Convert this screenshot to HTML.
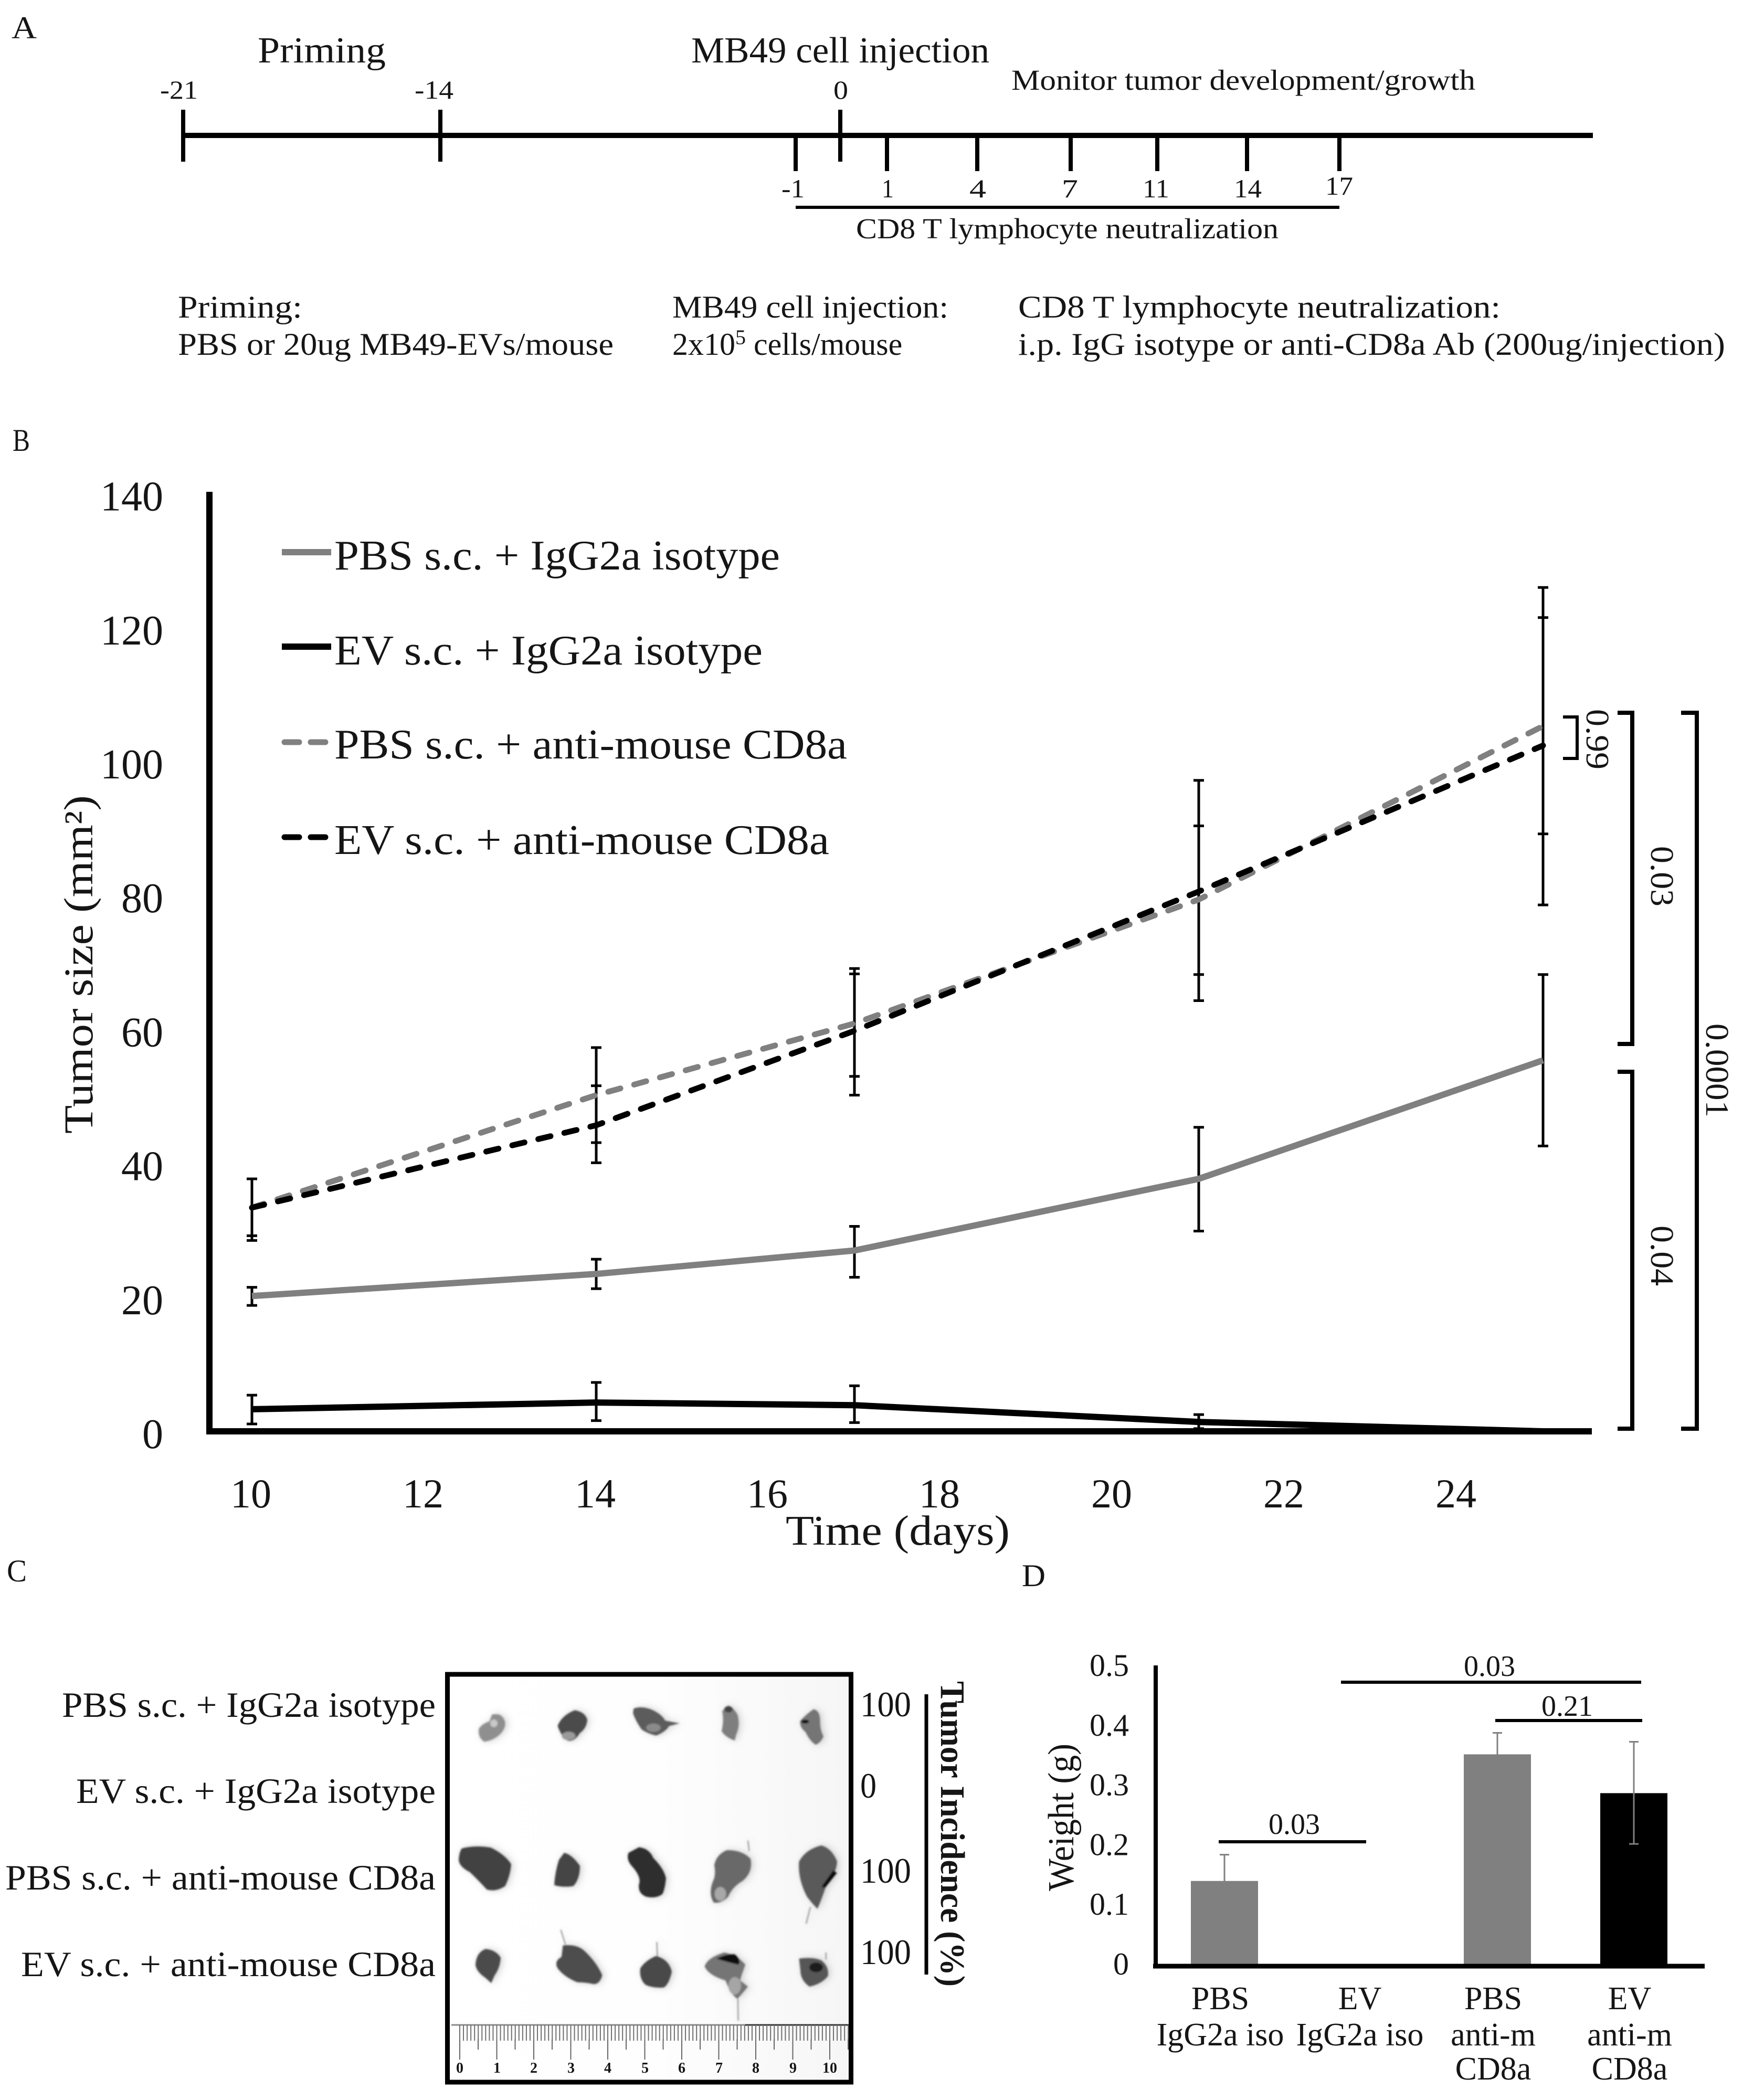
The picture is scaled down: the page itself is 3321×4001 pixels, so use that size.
<!DOCTYPE html>
<html lang="en">
<head>
<meta charset="utf-8">
<title>Tumor growth figure</title>
<style>
html,body{margin:0;padding:0;background:#fff;}
svg{display:block;}
text{font-family:"Liberation Serif",serif;fill:#151515;}
</style>
</head>
<body>
<svg id="fig" xmlns="http://www.w3.org/2000/svg" width="3321" height="4001" viewBox="0 0 3321 4001">
<defs>
<filter id="soft" filterUnits="userSpaceOnUse" x="850" y="3190" width="780" height="780">
<feGaussianBlur in="SourceGraphic" stdDeviation="1.6" result="s"/>
<feDropShadow in="s" dx="4" dy="0" stdDeviation="7" flood-color="#888" flood-opacity="0.4"/>
</filter>
<linearGradient id="photoBg" x1="0" y1="0" x2="1" y2="0">
<stop offset="0" stop-color="#ffffff"/>
<stop offset="0.5" stop-color="#fefefe"/>
<stop offset="1" stop-color="#f6f6f6"/>
</linearGradient>
</defs>
<rect x="0" y="0" width="3321" height="4001" fill="#fff"/>

<!-- Panel A -->
<g id="panel-a">
<text x="22" y="73" font-size="60" textLength="48" lengthAdjust="spacingAndGlyphs">A</text>
<text x="491" y="119" font-size="70" textLength="244" lengthAdjust="spacingAndGlyphs">Priming</text>
<text x="1317" y="119" font-size="70" textLength="568" lengthAdjust="spacingAndGlyphs">MB49 cell injection</text>
<text x="1927" y="171" font-size="55" textLength="884" lengthAdjust="spacingAndGlyphs">Monitor tumor development/growth</text>
<g stroke="#000" fill="none">
<line x1="349" y1="258" x2="3035" y2="258" stroke-width="10"/>
<line x1="349" y1="209" x2="349" y2="308" stroke-width="8"/>
<line x1="839" y1="209" x2="839" y2="308" stroke-width="8"/>
<line x1="1601" y1="209" x2="1601" y2="308" stroke-width="8"/>
<line x1="1516" y1="258" x2="1516" y2="326" stroke-width="8"/>
<line x1="1690" y1="258" x2="1690" y2="326" stroke-width="8"/>
<line x1="1862" y1="258" x2="1862" y2="326" stroke-width="8"/>
<line x1="2040" y1="258" x2="2040" y2="326" stroke-width="8"/>
<line x1="2205" y1="258" x2="2205" y2="326" stroke-width="8"/>
<line x1="2376" y1="258" x2="2376" y2="326" stroke-width="8"/>
<line x1="2552" y1="258" x2="2552" y2="326" stroke-width="8"/>
<line x1="1516" y1="395" x2="2552" y2="395" stroke-width="6"/>
</g>
<text x="305" y="188" font-size="50" textLength="72" lengthAdjust="spacingAndGlyphs">-21</text>
<text x="790" y="188" font-size="50" textLength="74" lengthAdjust="spacingAndGlyphs">-14</text>
<text x="1588" y="188" font-size="50" textLength="28" lengthAdjust="spacingAndGlyphs">0</text>
<text x="1489" y="376" font-size="50" textLength="44" lengthAdjust="spacingAndGlyphs">-1</text>
<text x="1680" y="376" font-size="50" textLength="23" lengthAdjust="spacingAndGlyphs">1</text>
<text x="1847" y="376" font-size="50" textLength="32" lengthAdjust="spacingAndGlyphs">4</text>
<text x="2023" y="376" font-size="50" textLength="31" lengthAdjust="spacingAndGlyphs">7</text>
<text x="2177" y="376" font-size="50" textLength="51" lengthAdjust="spacingAndGlyphs">11</text>
<text x="2351" y="376" font-size="50" textLength="53" lengthAdjust="spacingAndGlyphs">14</text>
<text x="2525" y="371" font-size="50" textLength="53" lengthAdjust="spacingAndGlyphs">17</text>
<text x="1631" y="454" font-size="55" textLength="805" lengthAdjust="spacingAndGlyphs">CD8 T lymphocyte neutralization</text>
<text x="339" y="605" font-size="60" textLength="237" lengthAdjust="spacingAndGlyphs">Priming:</text>
<text x="339" y="676" font-size="60" textLength="830" lengthAdjust="spacingAndGlyphs">PBS or 20ug MB49-EVs/mouse</text>
<text x="1281" y="605" font-size="60" textLength="526" lengthAdjust="spacingAndGlyphs">MB49 cell injection:</text>
<text x="1281" y="676" font-size="60">2x10<tspan dy="-20" font-size="40">5</tspan><tspan dy="20"> cells/mouse</tspan></text>
<text x="1940" y="605" font-size="60" textLength="919" lengthAdjust="spacingAndGlyphs">CD8 T lymphocyte neutralization:</text>
<text x="1940" y="676" font-size="60" textLength="1347" lengthAdjust="spacingAndGlyphs">i.p. IgG isotype or anti-CD8a Ab (200ug/injection)</text>
</g>

<!-- Panel B -->
<g id="panel-b">
<text x="24" y="859" font-size="60" textLength="33" lengthAdjust="spacingAndGlyphs">B</text>
<text transform="translate(176,2160) rotate(-90)" font-size="78" textLength="645" lengthAdjust="spacingAndGlyphs">Tumor size (mm²)</text>
<text x="1497" y="2943" font-size="80" textLength="427" lengthAdjust="spacingAndGlyphs">Time (days)</text>
<g id="b-ticks"></g>
<g id="b-errors" stroke="#000" fill="none"></g>
<g id="b-lines" fill="none"></g>
<line x1="399" y1="937" x2="399" y2="2733" stroke="#000" stroke-width="12"/>
<line x1="393" y1="2727" x2="3033" y2="2727" stroke="#000" stroke-width="12"/>
<line x1="537" y1="1052" x2="631" y2="1052" stroke="#808080" stroke-width="12"/>
<line x1="537" y1="1232" x2="631" y2="1232" stroke="#000" stroke-width="12"/>
<line x1="542" y1="1414" x2="622" y2="1414" stroke="#808080" stroke-width="11" stroke-dasharray="28 22" stroke-linecap="round"/>
<line x1="542" y1="1595" x2="622" y2="1595" stroke="#000" stroke-width="11" stroke-dasharray="28 22" stroke-linecap="round"/>
<text x="637" y="1085" font-size="80" textLength="849" lengthAdjust="spacingAndGlyphs">PBS s.c. + IgG2a isotype</text>
<text x="637" y="1266" font-size="80" textLength="816" lengthAdjust="spacingAndGlyphs">EV s.c. + IgG2a isotype</text>
<text x="637" y="1445" font-size="80" textLength="977" lengthAdjust="spacingAndGlyphs">PBS s.c. + anti-mouse CD8a</text>
<text x="637" y="1627" font-size="80" textLength="943" lengthAdjust="spacingAndGlyphs">EV s.c. + anti-mouse CD8a</text>
<g fill="none" stroke="#000">
<path d="M2978 1366H3005V1445H2978" stroke-width="6"/>
<path d="M3082 1358H3110V1989H3082" stroke-width="8"/>
<path d="M3082 2042H3110V2722H3082" stroke-width="8"/>
<path d="M3203 1358H3233V2722H3203" stroke-width="8"/>
</g>
<text transform="translate(3023,1351) rotate(90)" font-size="62" textLength="115" lengthAdjust="spacingAndGlyphs">0.99</text>
<text transform="translate(3146,1612) rotate(90)" font-size="62" textLength="115" lengthAdjust="spacingAndGlyphs">0.03</text>
<text transform="translate(3146,2335) rotate(90)" font-size="62" textLength="115" lengthAdjust="spacingAndGlyphs">0.04</text>
<text transform="translate(3251,1950) rotate(90)" font-size="62" textLength="179" lengthAdjust="spacingAndGlyphs">0.0001</text>
</g>

<!-- Panel C -->
<g id="panel-c">
<text x="13" y="3013" font-size="60" textLength="38" lengthAdjust="spacingAndGlyphs">C</text>
<text x="118" y="3271" font-size="68" textLength="712" lengthAdjust="spacingAndGlyphs">PBS s.c. + IgG2a isotype</text>
<text x="145" y="3435" font-size="68" textLength="685" lengthAdjust="spacingAndGlyphs">EV s.c. + IgG2a isotype</text>
<text x="10" y="3600" font-size="68" textLength="820" lengthAdjust="spacingAndGlyphs">PBS s.c. + anti-mouse CD8a</text>
<text x="40" y="3765" font-size="68" textLength="790" lengthAdjust="spacingAndGlyphs">EV s.c. + anti-mouse CD8a</text>
<rect x="853" y="3190" width="768" height="777" fill="url(#photoBg)"/>
<g filter="url(#soft)">
<g transform="translate(850,3190) scale(0.5,0.3333)">
<path d="M175 230Q205 222 215 245Q235 280 215 325Q190 375 145 385Q120 360 125 310Q140 280 165 270Z" fill="#8f8f8f"/>
<ellipse cx="182" cy="280" rx="14" ry="22" fill="#c8c8c8"/>
<path d="M490 205Q530 215 538 260Q535 310 510 335Q490 385 465 380Q440 360 425 295Q440 235 490 205Z" fill="#4c4c4c"/>
<ellipse cx="467" cy="352" rx="26" ry="24" fill="#9a9a9a"/>
<path d="M715 195Q745 180 780 200Q820 225 835 265L890 280L850 295Q835 330 800 350Q770 340 745 315Q720 260 712 220Z" fill="#5c5c5c"/>
<ellipse cx="790" cy="305" rx="28" ry="24" fill="#8a8a8a"/>
<path d="M1075 178Q1095 190 1110 230Q1122 290 1105 345L1100 378Q1065 360 1050 325Q1060 260 1052 210Z" fill="#7e7e7e"/>
<ellipse cx="1076" cy="200" rx="16" ry="18" fill="#444"/>
<path d="M1400 200Q1425 205 1425 270Q1425 320 1438 355Q1425 395 1408 402Q1385 380 1370 330Q1345 300 1350 265Q1375 225 1400 200Z" fill="#757575"/>
<ellipse cx="1368" cy="270" rx="15" ry="11" fill="#111"/>
</g>
</g>
<g filter="url(#soft)">
<g transform="translate(850,3480) scale(0.5,0.3333)">
<path d="M60 125Q110 105 170 120Q225 160 248 215Q245 280 225 340Q190 375 155 360Q125 310 90 260Q50 230 48 190Q50 145 60 125Z" fill="#434343"/>
<path d="M450 150Q480 160 510 225Q510 300 485 340Q445 350 412 335Q415 260 430 190Z" fill="#444"/>
<path d="M735 118Q775 125 790 180Q830 240 838 295Q835 350 825 385Q800 415 760 400Q730 380 735 330Q745 290 710 230Q685 190 695 150Z" fill="#2f2f2f"/>
<path d="M1070 135Q1130 135 1160 185Q1170 260 1130 310Q1090 345 1075 400Q1050 440 1020 435Q1000 390 1015 320Q1030 280 1022 220Q1030 160 1070 135Z" fill="#696969"/>
<ellipse cx="1045" cy="385" rx="22" ry="40" fill="#a8a8a8"/>
<path d="M1430 108Q1470 125 1490 200Q1485 280 1450 330Q1430 420 1415 470Q1395 440 1375 400Q1340 300 1345 200Q1370 130 1430 108Z" fill="#5a5a5a"/>
<path d="M1475 250L1430 345L1445 350L1490 265Z" fill="#111"/>
<path d="M150 700Q190 705 208 750Q205 810 185 850L172 895L150 865Q115 830 112 790Q115 720 150 700Z" fill="#4c4c4c"/>
<path d="M445 680Q500 670 530 715Q575 780 595 850Q585 905 560 900Q530 890 500 890Q450 860 425 810Q410 770 440 745Z" fill="#4e4e4e"/>
<path d="M800 740Q850 760 860 830Q850 900 830 920Q790 925 760 905Q735 870 740 810Q760 765 800 740Z" fill="#484848"/>
<path d="M1060 720Q1110 735 1140 790Q1125 850 1120 880L1150 915Q1125 960 1110 985Q1085 960 1065 880Q1000 850 985 800Q995 750 1060 720Z" fill="#747474"/>
<ellipse cx="1100" cy="910" rx="24" ry="50" fill="#a5a5a5"/>
<path d="M1030 755Q1070 725 1100 730Q1125 760 1115 790Q1070 775 1030 755Z" fill="#0a0a0a"/>
<path d="M1345 755Q1400 745 1430 765Q1460 800 1455 855Q1430 900 1385 915Q1350 880 1350 820Z" fill="#575757"/>
<ellipse cx="1410" cy="805" rx="26" ry="28" fill="#1c1c1c"/>
<g stroke="#666" stroke-width="3" fill="none">
<path d="M1150 80L1155 140"/>
<path d="M1388 460L1372 555"/>
<path d="M437 590L455 675"/>
<path d="M803 660L805 740"/>
<path d="M1112 985L1113 1110"/>
<path d="M1447 720L1448 760"/>
</g>
</g>
</g>
<g fill="none">
<line x1="860" y1="3858" x2="1420" y2="3858" stroke="#8a8a8a" stroke-width="3"/>
<line x1="1420" y1="3858" x2="1620" y2="3858" stroke="#333" stroke-width="3"/>
<line x1="875" y1="3873" x2="1620" y2="3873" stroke="#707070" stroke-width="30" stroke-dasharray="2 5.05"/>
<line x1="910" y1="3895" x2="1620" y2="3895" stroke="#666" stroke-width="20" stroke-dasharray="2 68.5"/>
<line x1="875" y1="3905" x2="1620" y2="3905" stroke="#666" stroke-width="38" stroke-dasharray="2 68.5"/>
</g>
<g font-size="28" font-weight="bold" text-anchor="middle">
<text x="876" y="3949">0</text>
<text x="947" y="3949">1</text>
<text x="1017" y="3949">2</text>
<text x="1088" y="3949">3</text>
<text x="1158" y="3949">4</text>
<text x="1229" y="3949">5</text>
<text x="1299" y="3949">6</text>
<text x="1370" y="3949">7</text>
<text x="1440" y="3949">8</text>
<text x="1511" y="3949">9</text>
<text x="1581" y="3949">10</text>
</g>
<rect x="852.5" y="3190" width="769" height="777" fill="none" stroke="#000" stroke-width="9"/>
<text x="1639" y="3270" font-size="68" textLength="97" lengthAdjust="spacingAndGlyphs">100</text>
<text x="1639" y="3425" font-size="68" textLength="31" lengthAdjust="spacingAndGlyphs">0</text>
<text x="1639" y="3587" font-size="68" textLength="97" lengthAdjust="spacingAndGlyphs">100</text>
<text x="1639" y="3742" font-size="68" textLength="97" lengthAdjust="spacingAndGlyphs">100</text>
<line x1="1765" y1="3228" x2="1765" y2="3762" stroke="#000" stroke-width="7"/>
<text transform="translate(1793,3203) rotate(90)" font-size="66" font-weight="bold" textLength="582" lengthAdjust="spacingAndGlyphs">Tumor Incidence (%)</text>
</g>

<!-- Panel D -->
<g id="panel-d">
<text x="1947" y="3022" font-size="60" textLength="45" lengthAdjust="spacingAndGlyphs">D</text>
<text transform="translate(2045,3603) rotate(-90)" font-size="70" textLength="281" lengthAdjust="spacingAndGlyphs">Weight (g)</text>
<g id="d-ticks"></g>
<g id="d-bars"></g>
<g id="d-errors" stroke="#808080" fill="none"></g>
<g id="d-cats"></g>
<line x1="2202" y1="3173" x2="2202" y2="3750" stroke="#000" stroke-width="8"/>
<line x1="2197" y1="3746" x2="3248" y2="3746" stroke="#000" stroke-width="9"/>
<line x1="2322" y1="3509" x2="2603" y2="3509" stroke="#000" stroke-width="6"/>
<line x1="2555" y1="3205" x2="3127" y2="3205" stroke="#000" stroke-width="6"/>
<line x1="2849" y1="3278" x2="3129" y2="3278" stroke="#000" stroke-width="6"/>
<text x="2466" y="3494" font-size="56" text-anchor="middle">0.03</text>
<text x="2838" y="3193" font-size="56" text-anchor="middle">0.03</text>
<text x="2986" y="3269" font-size="56" text-anchor="middle">0.21</text>
</g>

<script>
var days = [10, 14, 17, 21, 25];
var xTickValues = [10, 12, 14, 16, 18, 20, 22, 24];
var yTickValues = [0, 20, 40, 60, 80, 100, 120, 140];

var pbsIsoMean = [20.2, 23.5, 27, 37.7, 55.4];
var pbsIsoLow = [18.8, 21.3, 23, 29.9, 42.6];
var pbsIsoHigh = [21.5, 25.7, 30.6, 45.4, 68.2];

var evIsoMean = [3.3, 4.3, 3.9, 1.4, 0];
var evIsoLow = [1.1, 1.6, 1.3, 0.4, 0];
var evIsoHigh = [5.4, 7.3, 6.8, 2.5, 0];

var pbsAntiMean = [33.4, 50.2, 60.9, 79.4, 105.3];
var pbsAntiLow = [29.2, 43.1, 53, 68.2, 89.2];
var pbsAntiHigh = [37.7, 57.3, 69.1, 90.4, 126];

var evAntiMean = [33.4, 45.7, 59.8, 80.6, 102.4];
var evAntiLow = [28.5, 40.1, 50.2, 64.3, 78.6];
var evAntiHigh = [37.7, 51.6, 68.3, 97.2, 121.5];

var weightCategoryLine1 = ["PBS", "EV", "PBS", "EV"];
var weightCategoryLine2 = ["IgG2a iso", "IgG2a iso", "anti-m", "anti-m"];
var weightCategoryLine3 = ["", "", "CD8a", "CD8a"];
var weightMeans = [0.14, 0, 0.352, 0.287];
var weightLow = [0.096, 0, 0.316, 0.202];
var weightHigh = [0.184, 0, 0.388, 0.373];
var weightColors = ["#808080", "#808080", "#808080", "#000000"];
var weightTicks = ["0", "0.1", "0.2", "0.3", "0.4", "0.5"];
var weightTickValues = [0, 0.1, 0.2, 0.3, 0.4, 0.5];

var SVGNS = "http://www.w3.org/2000/svg";
function make(tag, parent, attrs) {
  var node = document.createElementNS(SVGNS, tag);
  for (var k in attrs) { node.setAttribute(k, attrs[k]); }
  parent.appendChild(node);
  return node;
}
function xDay(t) { return 480 + (t - 10) * 164; }
function ySize(v) { return 2727 - v * 12.76; }
function yWeight(v) { return 3743 - v * 1138; }
function xBand(i) { return 2333 + 260 * i; }
function xCategoryLabel(i) { return i === 1 ? xBand(i) - 2 : xBand(i) - 8; }

var bTicks = document.getElementById("b-ticks");
xTickValues.forEach(function (t) {
  var el = make("text", bTicks, { x: xDay(t) - 2, y: 2872, "font-size": 78, "text-anchor": "middle" });
  
  
  el.textContent = String(t);
});
yTickValues.forEach(function (v) {
  var el = make("text", bTicks, { x: 311, y: ySize(v) + 32, "font-size": 80, "text-anchor": "end" });
  
  
  el.textContent = String(v);
});

var bErrors = document.getElementById("b-errors");
function drawErrors(low, high, name) {
  days.forEach(function (d, i) {
    if (high[i] === low[i]) { return; }
    var x = xDay(d);
    var stem = make("path", bErrors, {
      d: "M" + x + " " + ySize(high[i]) + "V" + ySize(low[i]),
      "stroke-width": 5
    });
    
    
    var caps = make("path", bErrors, {
      d: "M" + (x - 10) + " " + ySize(high[i]) + "H" + (x + 10) + "M" + (x - 10) + " " + ySize(low[i]) + "H" + (x + 10),
      "stroke-width": 5
    });
    
    
  });
}
drawErrors(pbsIsoLow, pbsIsoHigh, 'error-bar-pbs-isotype');
drawErrors(evIsoLow, evIsoHigh, 'error-bar-ev-isotype');
drawErrors(pbsAntiLow, pbsAntiHigh, 'error-bar-pbs-anti');
drawErrors(evAntiLow, evAntiHigh, 'error-bar-ev-anti');

var bLines = document.getElementById("b-lines");
function seriesPath(values) {
  return values.map(function (v, i) { return (i ? "L" : "M") + xDay(days[i]) + " " + ySize(v); }).join("");
}
var linePbsIso = make("path", bLines, { d: seriesPath(pbsIsoMean), stroke: "#808080", "stroke-width": 12, "stroke-linejoin": "round" });


var lineEvIso = make("path", bLines, { d: seriesPath(evIsoMean), stroke: "#000", "stroke-width": 12, "stroke-linejoin": "round" });


var linePbsAnti = make("path", bLines, { d: seriesPath(pbsAntiMean), stroke: "#808080", "stroke-width": 11, "stroke-dasharray": "24 27", "stroke-linecap": "round" });


var lineEvAnti = make("path", bLines, { d: seriesPath(evAntiMean), stroke: "#000", "stroke-width": 11, "stroke-dasharray": "24 27", "stroke-linecap": "round" });



var dTicks = document.getElementById("d-ticks");
weightTickValues.forEach(function (v, i) {
  var el = make("text", dTicks, { x: 2151, y: yWeight(v) + 19, "font-size": 60, "text-anchor": "end" });
  
  
  el.textContent = weightTicks[i];
});

var dBars = document.getElementById("d-bars");
var dErrors = document.getElementById("d-errors");
weightMeans.forEach(function (m, i) {
  var c = xBand(i);
  var bar = make("rect", dBars, { x: c - 64, y: yWeight(m), width: 128, height: yWeight(0) - yWeight(m), fill: weightColors[i] });
  
  
  if (weightHigh[i] !== weightLow[i]) {
    var err = make("path", dErrors, {
      d: "M" + (c - 9) + " " + yWeight(weightHigh[i]) + "H" + (c + 9) + "M" + c + " " + yWeight(weightHigh[i]) + "V" + yWeight(weightLow[i]) + "M" + (c - 9) + " " + yWeight(weightLow[i]) + "H" + (c + 9),
      "stroke-width": 3
    });
    
    
  }
});

var dCats = document.getElementById("d-cats");
function drawCategoryLine(lines, baseline) {
  lines.forEach(function (label, i) {
    if (!label) { return; }
    var el = make("text", dCats, { x: xCategoryLabel(i), y: baseline, "font-size": 62, "text-anchor": "middle" });
    
    
    el.textContent = label;
  });
}
drawCategoryLine(weightCategoryLine1, 3828);
drawCategoryLine(weightCategoryLine2, 3897);
drawCategoryLine(weightCategoryLine3, 3962);
</script>
</svg>
</body>
</html>
